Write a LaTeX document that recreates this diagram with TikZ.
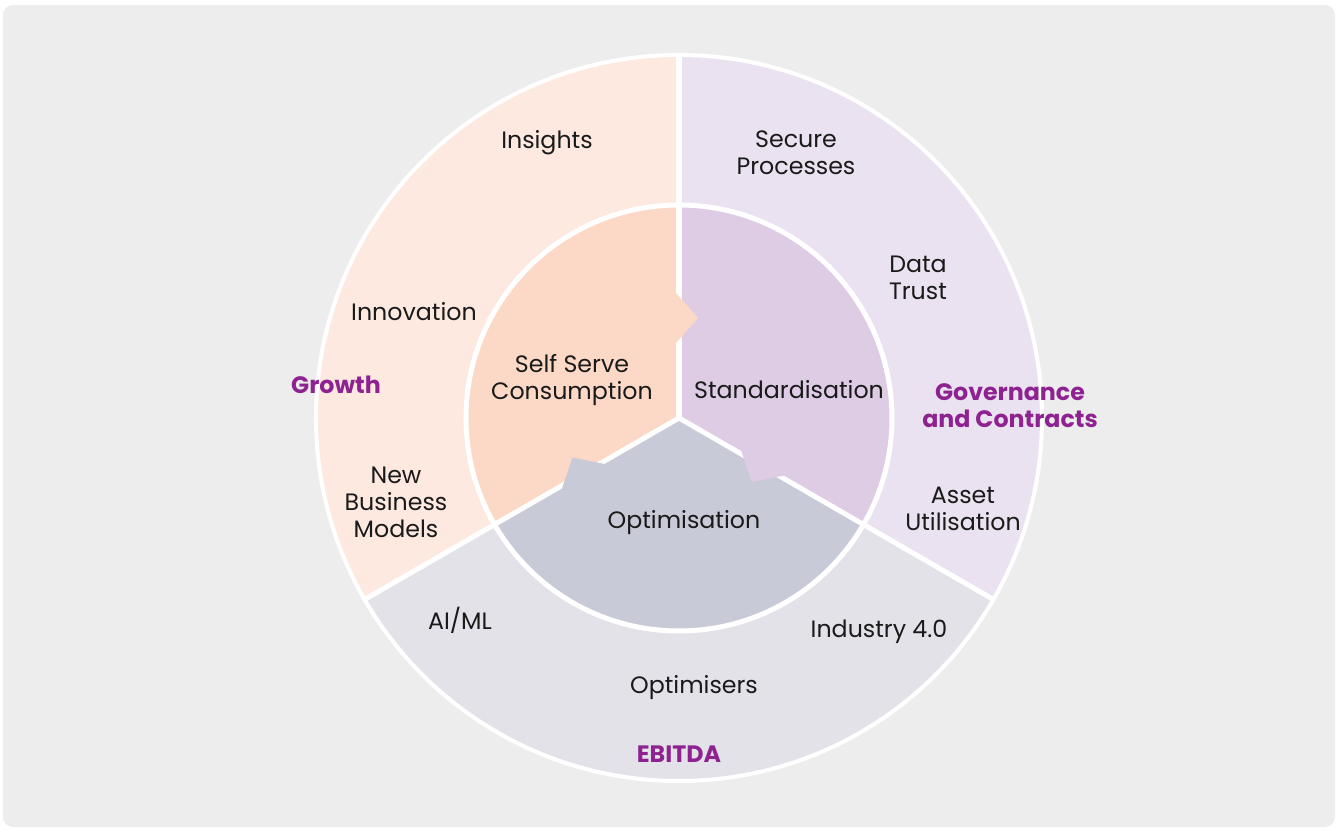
\documentclass[tikz,border=0pt]{standalone}
\usepackage{fontspec}
\setmainfont{Poppins}
\definecolor{bgcol}{HTML}{EDEDED}
\definecolor{growout}{HTML}{FDE9DF}
\definecolor{growin}{HTML}{FCD9C6}
\definecolor{govout}{HTML}{EAE2F0}
\definecolor{govin}{HTML}{DECCE5}
\definecolor{ebout}{HTML}{E3E2E9}
\definecolor{ebin}{HTML}{C9CAD7}
\definecolor{grpcol}{HTML}{8E2290}
\definecolor{txtcol}{HTML}{1A1A1A}

\begin{document}
\begin{tikzpicture}[x=0.02cm, y=0.02cm,
  lbl/.style={align=center, text=txtcol, inner sep=0pt,
    font=\fontsize{13.5}{15.3}\selectfont},
  grp/.style={lbl, text=grpcol, font=\fontsize{13.5}{15.3}\selectfont\bfseries},
  gap/.style={white, line width=2.85pt}]
  \useasboundingbox (-679,-410) rectangle (660,418);
  \fill[bgcol, rounded corners=0.2cm] (-676,-409) rectangle (656,413);
  % outer ring
  \fill[growout] (0,0) -- (90:363) arc[start angle=90, end angle=210, radius=363] -- cycle;
  \fill[ebout] (0,0) -- (210:363) arc[start angle=210, end angle=330, radius=363] -- cycle;
  \fill[govout] (0,0) -- (-30:363) arc[start angle=-30, end angle=90, radius=363] -- cycle;
  % inner disc
  \fill[growin] (0,0) -- (90:213) arc[start angle=90, end angle=210, radius=213] -- cycle;
  \fill[ebin] (0,0) -- (210:213) arc[start angle=210, end angle=330, radius=213] -- cycle;
  \fill[govin] (0,0) -- (-30:213) arc[start angle=-30, end angle=90, radius=213] -- cycle;
  \draw[white, line width=2.3pt] (0,0) circle (363);
  \draw[gap] (0,0) circle (213);
  \foreach \a in {90,210,330}
    \draw[gap] (0,0) -- (\a:363);
  % arrows between inner sectors
  \foreach \a/\d/\c in {90/100/growin, 210/112/ebin, 330/95/govin}
    \fill[\c, rotate=\a] (\d-25,3) -- (\d,-19) -- (\d+25,3) -- cycle;
  \node[lbl] (insights) at (-132,275) {Insights};
  \node[lbl] (innovation) at (-265,106) {Innovation};
  \node[lbl] (newbm) at (-283,-84) {New\\Business\\Models};
  \node[grp] (growth) at (-343,33) {Growth};
  \node[lbl] (secure) at (117,265) {Secure\\Processes};
  \node[lbl] (trust) at (239,140) {Data\\Trust};
  \node[lbl] (asset) at (284,-91) {Asset\\Utilisation};
  \node[grp] (gov) at (331,12) {Governance\\and Contracts};
  \node[lbl] (aiml) at (-219,-202) {AI/ML};
  \node[lbl] (ind) at (200,-214) {Industry 4.0};
  \node[lbl] (optimisers) at (15,-270) {Optimisers};
  \node[grp] (ebitda) at (0,-336) {EBITDA};
  \node[lbl] (selfserve) at (-107,38) {Self Serve\\Consumption};
  \node[lbl] (std) at (110,28) {Standardisation};
  \node[lbl] (optim) at (5,-105) {Optimisation};
\end{tikzpicture}
\end{document}
